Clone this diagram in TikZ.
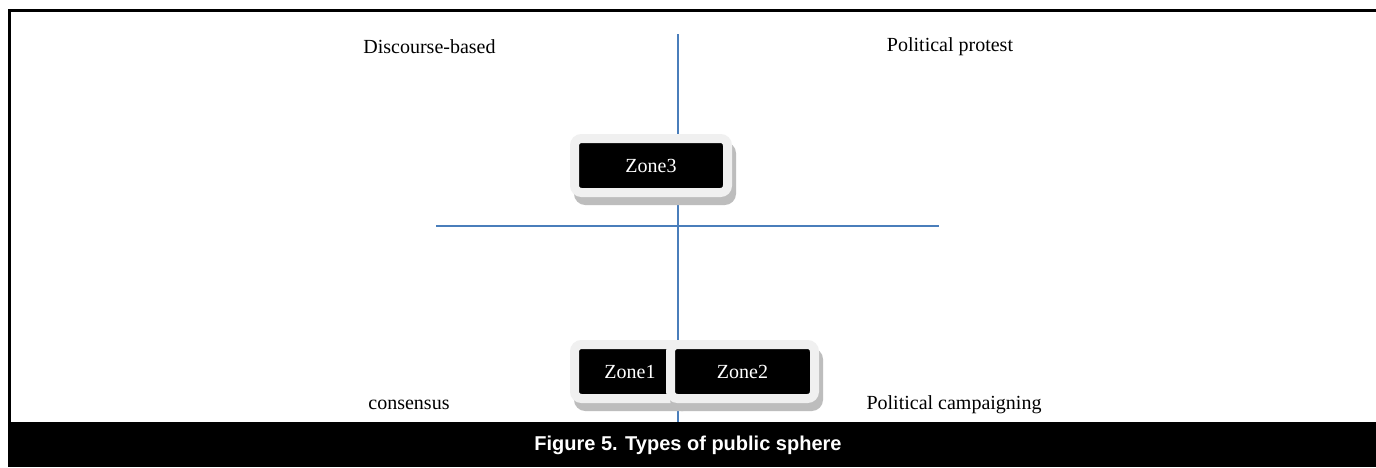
\documentclass[tikz,border=0pt]{standalone}
\usepackage{fontspec}
\setmainfont{Liberation Serif}
\newfontfamily\titlefont{Liberation Sans}
\usetikzlibrary{shadows}
\definecolor{axisblue}{HTML}{4A7EBB}
\definecolor{framegray}{HTML}{F0F0F0}
\definecolor{shadowgray}{HTML}{BDBDBD}
\begin{document}
\begin{tikzpicture}[x=1pt,y=-1pt,
  axis/.style={draw=axisblue, line width=2pt},
  zonebox/.style={fill=black, draw=framegray, line width=9pt, rounded corners=7pt,
    text=white, font=\fontsize{20}{24}\selectfont, minimum height=54pt, inner sep=0pt,
    drop shadow={shadow xshift=4pt, shadow yshift=-8pt, fill=shadowgray,
      draw=shadowgray, line width=9pt, opacity=1}},
  label/.style={font=\fontsize{20}{24}\selectfont, inner sep=0pt}]
  \useasboundingbox (0,0) rectangle (1376,467);
  \fill[white] (0,0) rectangle (1376,467);
  % frame lines
  \draw[line width=3pt] (8,10) -- (1376,10);
  \draw[line width=3pt] (9,10) -- (9,422);
  % axes
  \coordinate (vtop) at (678,34);
  \coordinate (vbot) at (678,422);
  \coordinate (hl) at (436,226);
  \coordinate (hr) at (939,226);
  \draw[axis] (vtop) -- (vbot);
  \draw[axis] (hl) -- (hr);
  % quadrant labels
  \node[label] (db) at (429.5,47) {Discourse-based};
  \node[label] (pp) at (950,47) {Political protest};
  \node[label] (cs) at (409,405) {consensus};
  \node[label] (pc) at (954,405) {Political campaigning};
  % zones
  \node[zonebox, minimum width=153pt] (z3) at (651,165.5) {Zone3};
  \node[zonebox, minimum width=111pt] (z1) at (630,371.5) {Zone1};
  \node[zonebox, minimum width=144pt] (z2) at (742.5,371.5) {Zone2};
  % caption bar
  \fill[black] (8,422) rectangle (1376,467);
  \node[text=white, font=\titlefont\bfseries\fontsize{20}{24}\selectfont, inner sep=0pt] (title) at (688,445) {Figure 5. Types of public sphere};
\end{tikzpicture}
\end{document}
